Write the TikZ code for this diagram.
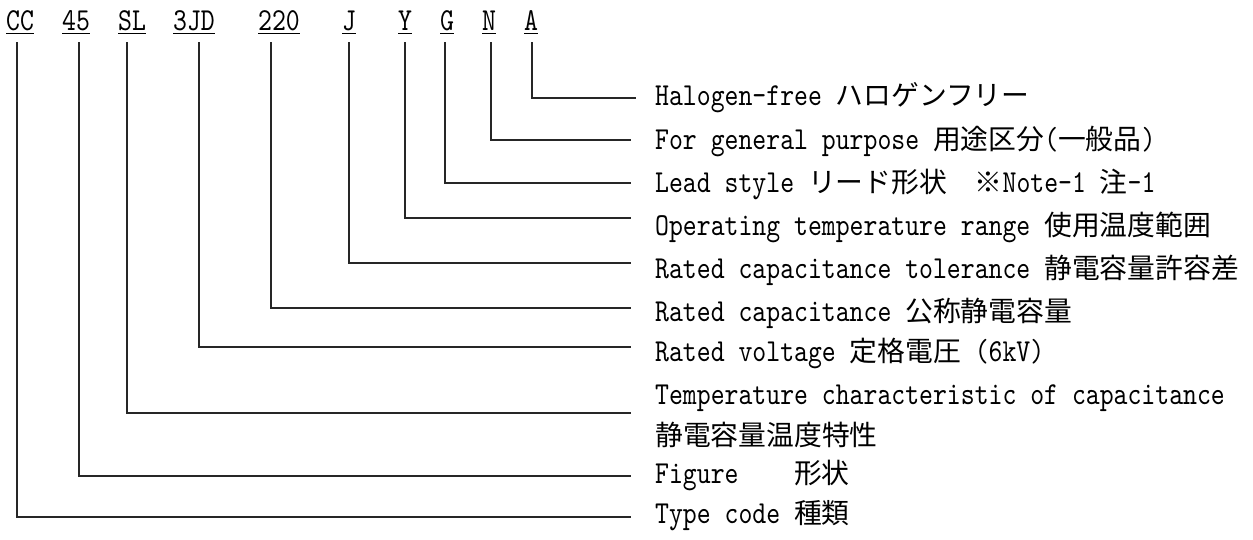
\documentclass[tikz,border=0pt]{standalone}
\usepackage{fontspec}
\newfontfamily\latmono[FakeStretch=0.827]{lmmono10-regular.otf}
\newfontfamily\jpfont{Noto Sans CJK JP}
\newcommand\jt[1]{{\fontsize{27.8pt}{30pt}\jpfont #1}}
\tikzset{
  lbl/.style={anchor=base west, inner sep=0pt, font=\fontsize{32pt}{34pt}\latmono},
  code/.style={anchor=base west, inner sep=0pt, font=\fontsize{32pt}{34pt}\latmono},
  ln/.style={line width=1.3pt, draw=black!85},
  uline/.style={line width=1.6pt, draw=black}
}
\begin{document}
\begin{tikzpicture}[x=1pt,y=-1pt]
\useasboundingbox (0,0) rectangle (1253,539);
% code letters
\foreach \nm/\xx/\tx in {cc/6/CC, c45/62/45, sl/118/SL, c3jd/173/3JD, c220/258/220, cj/342/J, cy/398/Y, cg/440/G, cn/482/N, ca/524/A}{
  \node[code] (\nm) at (\xx,30) {\tx};
  \draw[uline] ([yshift=-3.5pt]\nm.base west) -- ([yshift=-3.5pt]\nm.base east);
}
% labels
\node[lbl] (lA) at (655,105.5) {Halogen-free \jt{ハロゲンフリー}};
\node[lbl] (lN) at (655,149) {For general purpose \jt{用途区分}(\jt{一般品})};
\node[lbl] (lG) at (655,192.5) {Lead style \jt{リード形状　※}Note-1 \jt{注}-1};
\node[lbl] (lY) at (655,235.5) {Operating temperature range \jt{使用温度範囲}};
\node[lbl] (lJ) at (655,278.5) {Rated capacitance tolerance \jt{静電容量許容差}};
\node[lbl] (l220) at (655,321.5) {Rated capacitance \jt{公称静電容量}};
\node[lbl] (l3jd) at (655,361.5) {Rated voltage \jt{定格電圧} (6kV)};
\node[lbl] (lSLa) at (655,404.5) {Temperature characteristic of capacitance};
\node[lbl] (lSLb) at (655,445) {\jt{静電容量温度特性}};
\node[lbl] (l45) at (655,483.5) {Figure\ \ \ \ \jt{形状}};
\node[lbl] (lCC) at (655,523.5) {Type code \jt{種類}};
% connector end points
\foreach \nm/\xs/\yy/\xe in {cc/17/517/631, c45/79/476/631, sl/127/413/631, c3jd/199/347/631, c220/271/308/631, cj/349/263/631, cy/405/218/631, cg/445/183/631, cn/491/140/631, ca/532/98/636}{
  \coordinate (s\nm) at (\xs,42);
  \coordinate (e\nm) at (\xe,\yy);
  \draw[ln] (s\nm) |- (e\nm);
}
\end{tikzpicture}
\end{document}
